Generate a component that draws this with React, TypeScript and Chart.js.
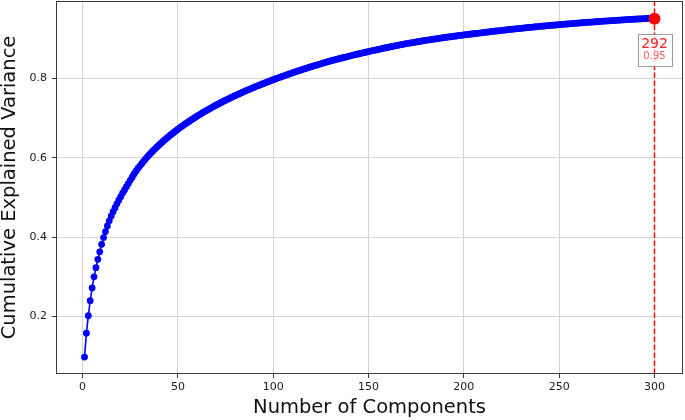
import React, { useEffect, useRef } from 'react';
import { Chart, registerables } from 'chart.js';

Chart.register(...registerables);

// Cumulative explained variance for components 1..300
const cumulativeVariance: number[] = [
  0.098, 0.158, 0.202, 0.240, 0.272, 0.300, 0.323, 0.344, 0.363, 0.382,
  0.399, 0.414, 0.428, 0.441, 0.453, 0.464, 0.474, 0.484, 0.493, 0.502,
  0.511, 0.519, 0.527, 0.535, 0.543, 0.551, 0.559, 0.566, 0.573, 0.579,
  0.585, 0.591, 0.597, 0.6023, 0.6075, 0.6126, 0.6175, 0.6223, 0.6270, 0.6315,
  0.6360, 0.6403, 0.6446, 0.6487, 0.6527, 0.6567, 0.6606, 0.6643, 0.6681, 0.6717,
  0.6753, 0.6788, 0.6822, 0.6856, 0.6889, 0.6921, 0.6953, 0.6984, 0.7015, 0.7045,
  0.7075, 0.7104, 0.7133, 0.7161, 0.7189, 0.7217, 0.7244, 0.7270, 0.7297, 0.7323,
  0.7348, 0.7373, 0.7398, 0.7423, 0.7447, 0.7471, 0.7494, 0.7517, 0.7540, 0.7563,
  0.7585, 0.7607, 0.7629, 0.7651, 0.7672, 0.7693, 0.7714, 0.7735, 0.7755, 0.7775,
  0.7795, 0.7815, 0.7834, 0.7853, 0.7872, 0.7891, 0.7910, 0.7928, 0.7947, 0.7965,
  0.7983, 0.8000, 0.8018, 0.8035, 0.8052, 0.8070, 0.8086, 0.8103, 0.8120, 0.8136,
  0.8153, 0.8169, 0.8185, 0.8200, 0.8216, 0.8232, 0.8247, 0.8263, 0.8278, 0.8293,
  0.8308, 0.8323, 0.8337, 0.8352, 0.8366, 0.8381, 0.8395, 0.8409, 0.8423, 0.8437,
  0.8450, 0.8462, 0.8475, 0.8487, 0.8500, 0.8512, 0.8524, 0.8536, 0.8548, 0.8560,
  0.8572, 0.8584, 0.8595, 0.8607, 0.8618, 0.8630, 0.8641, 0.8652, 0.8663, 0.8674,
  0.8685, 0.8695, 0.8706, 0.8716, 0.8727, 0.8737, 0.8748, 0.8758, 0.8769, 0.8779,
  0.8789, 0.8798, 0.8808, 0.8817, 0.8827, 0.8836, 0.8846, 0.8855, 0.8865, 0.8874,
  0.8882, 0.8890, 0.8899, 0.8907, 0.8915, 0.8923, 0.8931, 0.8940, 0.8948, 0.8956,
  0.8963, 0.8970, 0.8978, 0.8985, 0.8992, 0.8999, 0.9006, 0.9014, 0.9021, 0.9028,
  0.9034, 0.9041, 0.9047, 0.9054, 0.9060, 0.9066, 0.9073, 0.9079, 0.9086, 0.9092,
  0.9098, 0.9104, 0.9110, 0.9116, 0.9122, 0.9128, 0.9134, 0.9140, 0.9146, 0.9152,
  0.9158, 0.9163, 0.9169, 0.9174, 0.9180, 0.9186, 0.9191, 0.9197, 0.9202, 0.9208,
  0.9213, 0.9218, 0.9224, 0.9229, 0.9234, 0.9239, 0.9244, 0.9250, 0.9255, 0.9260,
  0.9265, 0.9270, 0.9274, 0.9279, 0.9284, 0.9289, 0.9294, 0.9298, 0.9303, 0.9308,
  0.9312, 0.9317, 0.9321, 0.9326, 0.9330, 0.9334, 0.9339, 0.9343, 0.9348, 0.9352,
  0.9356, 0.9360, 0.9364, 0.9368, 0.9372, 0.9376, 0.9380, 0.9384, 0.9388, 0.9392,
  0.9396, 0.9399, 0.9403, 0.9406, 0.9410, 0.9414, 0.9417, 0.9421, 0.9424, 0.9428,
  0.9431, 0.9435, 0.9438, 0.9441, 0.9445, 0.9448, 0.9451, 0.9454, 0.9458, 0.9461,
  0.9464, 0.9467, 0.9470, 0.9473, 0.9476, 0.9479, 0.9482, 0.9485, 0.9488, 0.9491,
  0.9494, 0.9496, 0.9499, 0.9502, 0.9505, 0.9508, 0.9510, 0.9513, 0.9516, 0.9519,
];

const xTickValues = [0, 50, 100, 150, 200, 250, 300];
const yTickValues = [0.2, 0.4, 0.6, 0.8];
const xLimits = [-13.95, 314.95];
const yLimits = [0.0553, 0.9947];

const thresholdX = 300;
const thresholdY = 0.95;
const thresholdLabel = '292';
const thresholdValueLabel = '0.95';

const xTitle = 'Number of Components';
const yTitle = 'Cumulative Explained Variance';

const FONT = '"DejaVu Sans", "Liberation Sans", sans-serif';

const framePlugin = {
  id: 'frameAndNote',
  afterDatasetsDraw(chart: any) {
    const { ctx, chartArea: a, scales } = chart;
    ctx.save();
    ctx.strokeStyle = '#3a3a3a';
    ctx.lineWidth = 1;
    ctx.strokeRect(a.left + 0.5, a.top + 0.5, a.right - a.left - 1, a.bottom - a.top - 1);

    const px = scales.x.getPixelForValue(thresholdX);
    const py = scales.y.getPixelForValue(thresholdY);
    const bw = 34;
    const bh = 32;
    const bx = Math.round(px - bw / 2);
    const by = Math.round(py + 15);
    ctx.fillStyle = 'rgba(255,255,255,0.8)';
    ctx.fillRect(bx, by, bw, bh);
    ctx.strokeStyle = '#999999';
    ctx.strokeRect(bx + 0.5, by + 0.5, bw, bh);
    ctx.textAlign = 'center';
    ctx.textBaseline = 'middle';
    ctx.fillStyle = '#ff2020';
    ctx.font = `14px ${FONT}`;
    ctx.fillText(thresholdLabel, px, by + 10);
    ctx.fillStyle = '#ff5c5c';
    ctx.font = `10px ${FONT}`;
    ctx.fillText(thresholdValueLabel, px, by + 22);
    ctx.restore();
  },
};

export default function App() {
  const canvasRef = useRef<HTMLCanvasElement | null>(null);

  useEffect(() => {
    document.body.style.margin = '0';
    const canvas = canvasRef.current;
    if (!canvas) return;

    const curve = cumulativeVariance.map((v, i) => ({ x: i + 1, y: v }));

    const chart = new Chart(canvas, {
      type: 'scatter',
      data: {
        datasets: [
          {
            data: [{ x: thresholdX, y: thresholdY }],
            pointRadius: 6,
            pointHoverRadius: 6,
            backgroundColor: '#ff0000',
            borderWidth: 0,
            order: 0,
            clip: false,
          } as any,
          {
            data: [
              { x: thresholdX, y: yLimits[0] },
              { x: thresholdX, y: yLimits[1] },
            ],
            showLine: true,
            borderColor: '#ff0000',
            borderWidth: 1.5,
            borderDash: [5.5, 2.5],
            pointRadius: 0,
            order: 1,
          } as any,
          {
            data: curve,
            showLine: true,
            borderColor: '#0000ff',
            borderWidth: 1.6,
            pointRadius: 3.4,
            pointHoverRadius: 3.4,
            pointBackgroundColor: '#0000ff',
            pointBorderWidth: 0,
            order: 2,
          } as any,
        ],
      },
      options: {
        responsive: false,
        animation: false,
        events: [],
        layout: { autoPadding: false, padding: { top: 1, right: 2, left: 0, bottom: 0 } },
        plugins: {
          legend: { display: false },
          tooltip: { enabled: false },
        },
        scales: {
          x: {
            type: 'linear',
            min: xLimits[0],
            max: xLimits[1],
            afterBuildTicks: (s: any) => {
              s.ticks = xTickValues.map((v) => ({ value: v }));
            },
            afterFit: (s: any) => {
              s.height = 46;
              s.paddingLeft = 0;
              s.paddingRight = 0;
              s.paddingTop = 0;
              s.paddingBottom = 0;
            },
            ticks: {
              autoSkip: false,
              maxRotation: 0,
              padding: 3,
              color: '#1a1a1a',
              font: { family: FONT, size: 11 },
              callback: (v: any) => String(v),
            },
            grid: { color: '#d4d4d4', lineWidth: 1, tickLength: 4, tickColor: '#3a3a3a' },
            border: { display: false },
            title: {
              display: true,
              text: xTitle,
              color: '#111111',
              font: { family: FONT, size: 19.5, lineHeight: 1.2 },
              padding: { top: 0, bottom: 0 },
            },
          },
          y: {
            type: 'linear',
            min: yLimits[0],
            max: yLimits[1],
            afterBuildTicks: (s: any) => {
              s.ticks = yTickValues.map((v) => ({ value: v }));
            },
            afterFit: (s: any) => {
              s.width = 56;
              s.paddingLeft = 0;
              s.paddingRight = 0;
              s.paddingTop = 0;
              s.paddingBottom = 0;
            },
            ticks: {
              autoSkip: false,
              padding: 5,
              color: '#1a1a1a',
              font: { family: FONT, size: 11 },
              callback: (v: any) => String(v),
            },
            grid: { color: '#d4d4d4', lineWidth: 1, tickLength: 4, tickColor: '#3a3a3a' },
            border: { display: false },
            title: {
              display: true,
              text: yTitle,
              color: '#111111',
              font: { family: FONT, size: 19.5, lineHeight: 1.0 },
              padding: { top: 0, bottom: 0 },
            },
          },
        },
      },
      plugins: [framePlugin],
    });

    return () => chart.destroy();
  }, []);

  return (
    <canvas
      ref={canvasRef}
      width={685}
      height={420}
      style={{ display: 'block', width: 685, height: 420 }}
    />
  );
}
